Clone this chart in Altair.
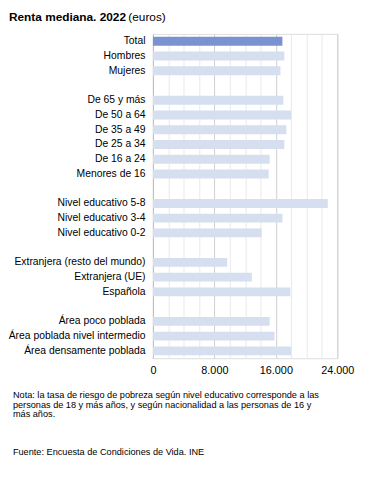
import altair as alt
import pandas as pd

categories = [
    "Total", "Hombres", "Mujeres",
    "De 65 y más", "De 50 a 64", "De 35 a 49", "De 25 a 34", "De 16 a 24", "Menores de 16",
    "Nivel educativo 5-8", "Nivel educativo 3-4", "Nivel educativo 0-2",
    "Extranjera (resto del mundo)", "Extranjera (UE) ", "Española",
    "Área poco poblada", "Área poblada nivel intermedio", "Área densamente poblada",
]
values = [
    16850, 17110, 16600,
    16980, 17970, 17370, 17110, 15190, 15060,
    22760, 16860, 14160,
    9670, 12880, 17880,
    15190, 15830, 17970,
]
domain_order = [
    "Total", "Hombres", "Mujeres", " ",
    "De 65 y más", "De 50 a 64", "De 35 a 49", "De 25 a 34", "De 16 a 24", "Menores de 16", "  ",
    "Nivel educativo 5-8", "Nivel educativo 3-4", "Nivel educativo 0-2", "   ",
    "Extranjera (resto del mundo)", "Extranjera (UE) ", "Española", "    ",
    "Área poco poblada", "Área poblada nivel intermedio", "Área densamente poblada",
]
grid_values = list(range(0, 24001, 2000))
title_bold = "Renta mediana. 2022"
title_rest = "(euros)"
notes = [
    "Nota: la tasa de riesgo de pobreza según nivel educativo corresponde a las",
    "personas de 18 y más años, y según nacionalidad a las personas de 16 y",
    "más años.",
]
source = "Fuente: Encuesta de Condiciones de Vida. INE"

df = pd.DataFrame({"cat": categories, "val": values})
df["is_total"] = df["cat"] == "Total"

W, H = 187, 329
FONT = "Liberation Sans"


def text_layer(s, x, y, size, weight="normal"):
    d = pd.DataFrame({"t": [s]})
    return alt.Chart(d).mark_text(align="left", baseline="middle", font=FONT, fontSize=size,
                                  fontWeight=weight, color="#000000").encode(
        text="t:N", x=alt.value(x), y=alt.value(y))


bars = alt.Chart(df).mark_bar().encode(
    y=alt.Y("cat:N", sort=domain_order,
            scale=alt.Scale(domain=domain_order, paddingInner=0.4, paddingOuter=0.2),
            axis=alt.Axis(title=None, ticks=False, domain=True, domainColor="#bdbdbd",
                          labelFont=FONT, labelFontSize=10.5, labelColor="#000000",
                          labelPadding=8, grid=False)),
    x=alt.X("val:Q", scale=alt.Scale(domain=[0, 24000], nice=False),
            axis=alt.Axis(title=None, values=grid_values, ticks=False, domain=False,
                          labelFlush=False,
                          labelExpr="datum.value % 8000 === 0 ? replace(format(datum.value, ','), ',', '.') : ''",
                          labelFont=FONT, labelFontSize=11, labelColor="#000000",
                          labelPadding=6, grid=True,
                          gridColor={"condition": {"test": "datum.value % 8000 === 0", "value": "#cfcfcf"},
                                     "value": "#e9e9e9"})),
    color=alt.condition(alt.datum.is_total, alt.value("#7a92d0"), alt.value("#d6dff0")),
)

layers = [bars,
          text_layer(title_bold, -146, -17, 12, "bold"),
          text_layer(title_rest, -25, -17, 12)]
for i, line in enumerate(notes):
    layers.append(text_layer(line, -142, 366 + 10 * i, 9.3))
layers.append(text_layer(source, -142, 424, 9.3))

chart = alt.layer(*layers).properties(
    width=W, height=H, padding={"left": 0, "top": 0, "right": 5, "bottom": 5}
).configure_view(stroke=None).configure(background="white")

chart.save("out.html", embed_options={"renderer": "svg", "actions": False})
